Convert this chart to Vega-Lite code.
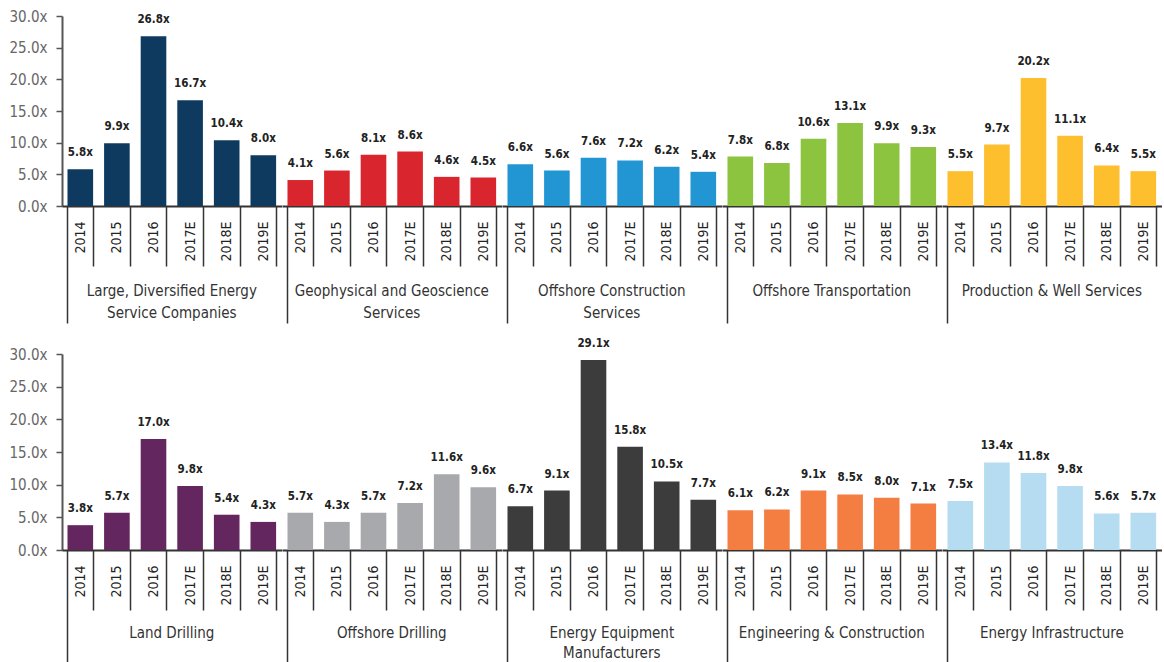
{
  "$schema": "https://vega.github.io/schema/vega-lite/v6.json",
  "background": "white",
  "padding": {"left": 8, "top": 9, "right": 0, "bottom": 0},
  "config": {
    "view": {"stroke": null},
    "font": "Liberation Sans Narrow, DejaVu Sans Condensed, Roboto, sans-serif",
    "axisY": {
      "domainColor": "#555", "domainWidth": 2,
      "tickColor": "#555", "tickSize": 6, "tickWidth": 1.5,
      "labelFontSize": 15, "labelColor": "#666", "labelPadding": 9,
      "grid": false, "title": null
    },
    "axisX": {
      "domainColor": "#333", "domainWidth": 2,
      "tickColor": "#333", "tickWidth": 1.5,
      "tickBand": "extent",
      "tickSize": {"condition": {"test": "datum.value == null", "value": 117}, "value": 60},
      "labelPadding": -45,
      "labelAngle": -90, "labelFontSize": 14, "labelColor": "#222",
      "grid": false, "title": null
    },
    "header": {"labelFontSize": 15, "labelColor": "#333", "labelFont": "Liberation Sans Narrow, DejaVu Sans Condensed, Roboto, sans-serif"}
  },
  "data": {
    "values": [
      {"panel": 1, "group": "Large, Diversified Energy Service Companies", "year": "2014", "value": 5.8},
      {"panel": 1, "group": "Large, Diversified Energy Service Companies", "year": "2015", "value": 9.9},
      {"panel": 1, "group": "Large, Diversified Energy Service Companies", "year": "2016", "value": 26.8},
      {"panel": 1, "group": "Large, Diversified Energy Service Companies", "year": "2017E", "value": 16.7},
      {"panel": 1, "group": "Large, Diversified Energy Service Companies", "year": "2018E", "value": 10.4},
      {"panel": 1, "group": "Large, Diversified Energy Service Companies", "year": "2019E", "value": 8.0},
      {"panel": 1, "group": "Geophysical and Geoscience Services", "year": "2014", "value": 4.1},
      {"panel": 1, "group": "Geophysical and Geoscience Services", "year": "2015", "value": 5.6},
      {"panel": 1, "group": "Geophysical and Geoscience Services", "year": "2016", "value": 8.1},
      {"panel": 1, "group": "Geophysical and Geoscience Services", "year": "2017E", "value": 8.6},
      {"panel": 1, "group": "Geophysical and Geoscience Services", "year": "2018E", "value": 4.6},
      {"panel": 1, "group": "Geophysical and Geoscience Services", "year": "2019E", "value": 4.5},
      {"panel": 1, "group": "Offshore Construction Services", "year": "2014", "value": 6.6},
      {"panel": 1, "group": "Offshore Construction Services", "year": "2015", "value": 5.6},
      {"panel": 1, "group": "Offshore Construction Services", "year": "2016", "value": 7.6},
      {"panel": 1, "group": "Offshore Construction Services", "year": "2017E", "value": 7.2},
      {"panel": 1, "group": "Offshore Construction Services", "year": "2018E", "value": 6.2},
      {"panel": 1, "group": "Offshore Construction Services", "year": "2019E", "value": 5.4},
      {"panel": 1, "group": "Offshore Transportation", "year": "2014", "value": 7.8},
      {"panel": 1, "group": "Offshore Transportation", "year": "2015", "value": 6.8},
      {"panel": 1, "group": "Offshore Transportation", "year": "2016", "value": 10.6},
      {"panel": 1, "group": "Offshore Transportation", "year": "2017E", "value": 13.1},
      {"panel": 1, "group": "Offshore Transportation", "year": "2018E", "value": 9.9},
      {"panel": 1, "group": "Offshore Transportation", "year": "2019E", "value": 9.3},
      {"panel": 1, "group": "Production & Well Services", "year": "2014", "value": 5.5},
      {"panel": 1, "group": "Production & Well Services", "year": "2015", "value": 9.7},
      {"panel": 1, "group": "Production & Well Services", "year": "2016", "value": 20.2},
      {"panel": 1, "group": "Production & Well Services", "year": "2017E", "value": 11.1},
      {"panel": 1, "group": "Production & Well Services", "year": "2018E", "value": 6.4},
      {"panel": 1, "group": "Production & Well Services", "year": "2019E", "value": 5.5},
      {"panel": 2, "group": "Land Drilling", "year": "2014", "value": 3.8},
      {"panel": 2, "group": "Land Drilling", "year": "2015", "value": 5.7},
      {"panel": 2, "group": "Land Drilling", "year": "2016", "value": 17.0},
      {"panel": 2, "group": "Land Drilling", "year": "2017E", "value": 9.8},
      {"panel": 2, "group": "Land Drilling", "year": "2018E", "value": 5.4},
      {"panel": 2, "group": "Land Drilling", "year": "2019E", "value": 4.3},
      {"panel": 2, "group": "Offshore Drilling", "year": "2014", "value": 5.7},
      {"panel": 2, "group": "Offshore Drilling", "year": "2015", "value": 4.3},
      {"panel": 2, "group": "Offshore Drilling", "year": "2016", "value": 5.7},
      {"panel": 2, "group": "Offshore Drilling", "year": "2017E", "value": 7.2},
      {"panel": 2, "group": "Offshore Drilling", "year": "2018E", "value": 11.6},
      {"panel": 2, "group": "Offshore Drilling", "year": "2019E", "value": 9.6},
      {"panel": 2, "group": "Energy Equipment Manufacturers", "year": "2014", "value": 6.7},
      {"panel": 2, "group": "Energy Equipment Manufacturers", "year": "2015", "value": 9.1},
      {"panel": 2, "group": "Energy Equipment Manufacturers", "year": "2016", "value": 29.1},
      {"panel": 2, "group": "Energy Equipment Manufacturers", "year": "2017E", "value": 15.8},
      {"panel": 2, "group": "Energy Equipment Manufacturers", "year": "2018E", "value": 10.5},
      {"panel": 2, "group": "Energy Equipment Manufacturers", "year": "2019E", "value": 7.7},
      {"panel": 2, "group": "Engineering & Construction", "year": "2014", "value": 6.1},
      {"panel": 2, "group": "Engineering & Construction", "year": "2015", "value": 6.2},
      {"panel": 2, "group": "Engineering & Construction", "year": "2016", "value": 9.1},
      {"panel": 2, "group": "Engineering & Construction", "year": "2017E", "value": 8.5},
      {"panel": 2, "group": "Engineering & Construction", "year": "2018E", "value": 8.0},
      {"panel": 2, "group": "Engineering & Construction", "year": "2019E", "value": 7.1},
      {"panel": 2, "group": "Energy Infrastructure", "year": "2014", "value": 7.5},
      {"panel": 2, "group": "Energy Infrastructure", "year": "2015", "value": 13.4},
      {"panel": 2, "group": "Energy Infrastructure", "year": "2016", "value": 11.8},
      {"panel": 2, "group": "Energy Infrastructure", "year": "2017E", "value": 9.8},
      {"panel": 2, "group": "Energy Infrastructure", "year": "2018E", "value": 5.6},
      {"panel": 2, "group": "Energy Infrastructure", "year": "2019E", "value": 5.7}
    ]
  },
  "spacing": 13,
  "vconcat": [
    {
      "transform": [{"filter": "datum.panel == 1"}],
      "facet": {
        "column": {
          "field": "group", "type": "nominal",
          "sort": ["Large, Diversified Energy Service Companies", "Geophysical and Geoscience Services", "Offshore Construction Services", "Offshore Transportation", "Production & Well Services"],
          "header": {
            "title": null, "labelOrient": "bottom", "labelPadding": -40, "labelLineHeight": 22,
            "labelExpr": "length(datum.label) <= 26 ? datum.label : indexof(datum.label, 'Energy Service') > 0 ? ['Large, Diversified Energy', 'Service Companies'] : [slice(datum.label, 0, lastindexof(datum.label, ' ')), slice(datum.label, lastindexof(datum.label, ' ') + 1)]"
          }
        }
      },
      "spacing": 0,
      "spec": {
        "width": 219.6,
        "height": 190,
        "encoding": {
          "x": {"field": "year", "type": "ordinal", "sort": ["2014", "2015", "2016", "2017E", "2018E", "2019E"], "scale": {"paddingInner": 0.3, "paddingOuter": 0.15}},
          "y": {"field": "value", "type": "quantitative", "scale": {"domain": [0, 30], "nice": false}, "axis": {"values": [0, 5, 10, 15, 20, 25, 30], "labelExpr": "format(datum.value, '.1f') + 'x'"}}
        },
        "layer": [
          {
            "mark": {"type": "bar"},
            "encoding": {
              "color": {"field": "group", "type": "nominal", "legend": null,
                "scale": {
                  "domain": ["Large, Diversified Energy Service Companies", "Geophysical and Geoscience Services", "Offshore Construction Services", "Offshore Transportation", "Production & Well Services", "Land Drilling", "Offshore Drilling", "Energy Equipment Manufacturers", "Engineering & Construction", "Energy Infrastructure"],
                  "range": ["#0f3a5f", "#d9252d", "#2296d3", "#8cc33f", "#fdbf2e", "#63265f", "#a7a9ac", "#3c3c3c", "#f47d42", "#b5dcf1"]
                }
              }
            }
          },
          {
            "mark": {"type": "text", "baseline": "alphabetic", "dy": -13, "fontSize": 11.5, "fontWeight": "bold", "color": "#222", "text": {"expr": "format(datum.value, '.1f') + 'x'"}}
          }
        ]
      }
    },
    {
      "transform": [{"filter": "datum.panel == 2"}],
      "facet": {
        "column": {
          "field": "group", "type": "nominal",
          "sort": ["Land Drilling", "Offshore Drilling", "Energy Equipment Manufacturers", "Engineering & Construction", "Energy Infrastructure"],
          "header": {
            "title": null, "labelOrient": "bottom", "labelPadding": -42, "labelLineHeight": 20,
            "labelExpr": "length(datum.label) <= 26 ? datum.label : indexof(datum.label, 'Energy Service') > 0 ? ['Large, Diversified Energy', 'Service Companies'] : [slice(datum.label, 0, lastindexof(datum.label, ' ')), slice(datum.label, lastindexof(datum.label, ' ') + 1)]"
          }
        }
      },
      "spacing": 0,
      "spec": {
        "width": 219.6,
        "height": 196,
        "encoding": {
          "x": {"field": "year", "type": "ordinal", "sort": ["2014", "2015", "2016", "2017E", "2018E", "2019E"], "scale": {"paddingInner": 0.3, "paddingOuter": 0.15}},
          "y": {"field": "value", "type": "quantitative", "scale": {"domain": [0, 30], "nice": false}, "axis": {"values": [0, 5, 10, 15, 20, 25, 30], "labelExpr": "format(datum.value, '.1f') + 'x'"}}
        },
        "layer": [
          {
            "mark": {"type": "bar"},
            "encoding": {
              "color": {"field": "group", "type": "nominal", "legend": null,
                "scale": {
                  "domain": ["Large, Diversified Energy Service Companies", "Geophysical and Geoscience Services", "Offshore Construction Services", "Offshore Transportation", "Production & Well Services", "Land Drilling", "Offshore Drilling", "Energy Equipment Manufacturers", "Engineering & Construction", "Energy Infrastructure"],
                  "range": ["#0f3a5f", "#d9252d", "#2296d3", "#8cc33f", "#fdbf2e", "#63265f", "#a7a9ac", "#3c3c3c", "#f47d42", "#b5dcf1"]
                }
              }
            }
          },
          {
            "mark": {"type": "text", "baseline": "alphabetic", "dy": -13, "fontSize": 11.5, "fontWeight": "bold", "color": "#222", "text": {"expr": "format(datum.value, '.1f') + 'x'"}}
          }
        ]
      }
    }
  ]
}
